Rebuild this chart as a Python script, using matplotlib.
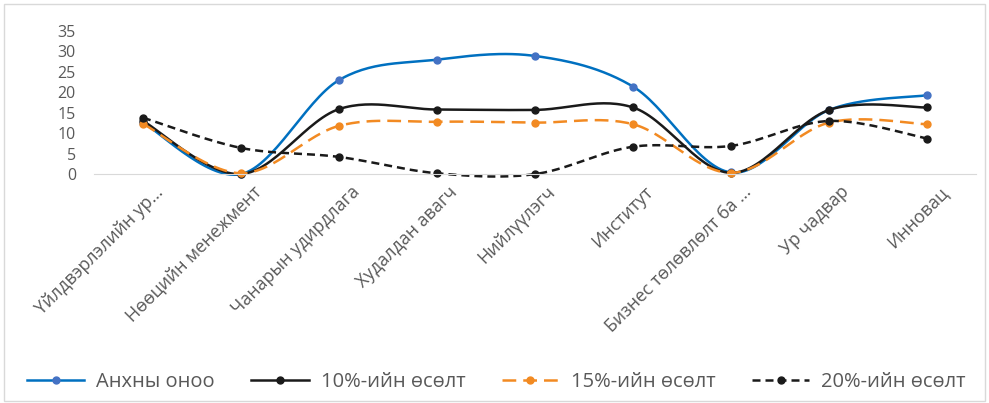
import numpy as np
import matplotlib.pyplot as plt
from matplotlib.patches import Rectangle

plt.rcParams['font.family'] = ['Open Sans', 'DejaVu Sans']

categories = ['Үйлдвэрлэлийн ур...', 'Нөөцийн менежмент', 'Чанарын удирдлага',
              'Худалдан авагч', 'Нийлүүлэгч', 'Институт',
              'Бизнес төлөвлөлт ба ...', 'Ур чадвар', 'Инновац']
base = [12.6, 0.0, 23.0, 28.0, 28.9, 21.4, 0.4, 15.7, 19.3]
grow10 = [13.0, 0.0, 15.9, 15.8, 15.7, 16.3, 0.3, 15.7, 16.3]
grow15 = [12.3, 0.2, 11.8, 12.8, 12.6, 12.2, 0.3, 12.6, 12.2]
grow20 = [13.8, 6.4, 4.2, 0.2, 0.0, 6.7, 6.9, 13.0, 8.7]
series_names = ['Анхны оноо', '10%-ийн өсөлт', '15%-ийн өсөлт', '20%-ийн өсөлт']
yticks = [0, 5, 10, 15, 20, 25, 30, 35]


def smooth(y, n=30):
    # Excel-like smoothed line: Catmull-Rom style cubic Bezier between points
    y = np.asarray(y, dtype=float)
    x = np.arange(len(y), dtype=float)
    px = np.concatenate([[x[0]], x, [x[-1]]])
    py = np.concatenate([[y[0]], y, [y[-1]]])
    t = np.linspace(0, 1, n, endpoint=False)
    xs, ys = [], []
    for i in range(len(y) - 1):
        p0 = np.array([px[i + 1], py[i + 1]])
        p3 = np.array([px[i + 2], py[i + 2]])
        p1 = p0 + (np.array([px[i + 2], py[i + 2]]) - np.array([px[i], py[i]])) / 6
        p2 = p3 - (np.array([px[i + 3], py[i + 3]]) - np.array([px[i + 1], py[i + 1]])) / 6
        b = ((1 - t) ** 3)[:, None] * p0 + (3 * (1 - t) ** 2 * t)[:, None] * p1 \
            + (3 * (1 - t) * t ** 2)[:, None] * p2 + (t ** 3)[:, None] * p3
        xs.extend(b[:, 0]); ys.extend(b[:, 1])
    xs.append(x[-1]); ys.append(y[-1])
    marks = list(range(0, n * (len(y) - 1) + 1, n))
    return np.array(xs), np.array(ys), marks


fig = plt.figure(figsize=(9.89, 4.03), dpi=100)
ax = fig.add_axes([0.095, 0.568, 0.892, 0.355])

styles = [
    dict(color='#0070C0', mfc='#4472C4', ls='-'),
    dict(color='#1A1A1A', mfc='#1A1A1A', ls='-'),
    dict(color='#F28A22', mfc='#F28A22', ls=(0, (5.5, 2.8))),
    dict(color='#1A1A1A', mfc='#1A1A1A', ls=(0, (3.2, 2))),
]
for vals, name, st in zip([base, grow10, grow15, grow20], series_names, styles):
    xs, ys, marks = smooth(vals)
    ax.plot(xs, ys, color=st['color'], ls=st['ls'], lw=1.8, marker='o', ms=5,
            mfc=st['mfc'], mec=st['mfc'], markevery=marks, label=name, clip_on=False)

ax.set_xlim(-0.5, len(categories) - 0.5)
ax.set_ylim(0, 35)
ax.set_yticks(yticks)
# labels sit slightly right of the category centre, like the Excel original
ax.set_xticks(range(len(categories)), [''] * len(categories))
ax.set_xticks(np.arange(len(categories)) + 0.18, categories, minor=True)
plt.setp(ax.get_xticklabels(minor=True), rotation=45, ha='right', va='center',
         rotation_mode='anchor', fontsize=12.8)
for s in ['top', 'right', 'left']:
    ax.spines[s].set_visible(False)
ax.spines['bottom'].set_color('#D9D9D9')
ax.tick_params(which='both', length=0, colors='#595959')
ax.tick_params(axis='x', which='minor', pad=11)
ax.tick_params(axis='y', pad=13, labelsize=11.5)

fig.legend(loc='center', bbox_to_anchor=(0.502, 0.052), ncol=4, frameon=False,
           fontsize=14.5, labelcolor='#595959', handlelength=2.85, handletextpad=0.6,
           columnspacing=1.8)
fig.patches.append(Rectangle((0.004, 0.004), 0.992, 0.985, transform=fig.transFigure,
                             fill=False, ec='#D9D9D9', lw=1))

fig.savefig('out.png', dpi=100)
